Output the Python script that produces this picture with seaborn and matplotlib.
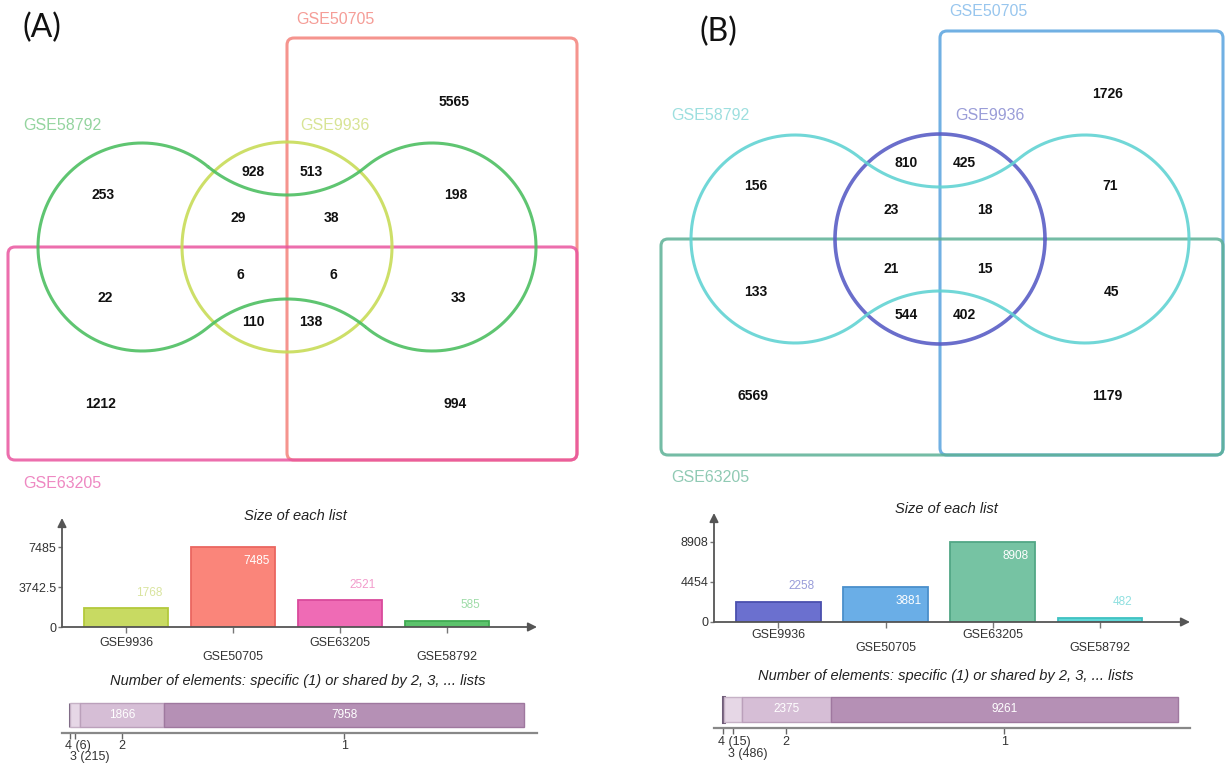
import numpy as np
import pandas as pd
import matplotlib
matplotlib.use("Agg")
import matplotlib.pyplot as plt
from matplotlib.patches import FancyBboxPatch
import seaborn as sns

# ---------------- data ----------------
list_names = ["GSE9936", "GSE50705", "GSE63205", "GSE58792"]

# panel A (up-regulated)
sizes_a = [1768, 7485, 2521, 585]
venn_regions = ["50705", "58792", "9936_58792_L", "9936_58792_50705", "58792_50705",
                "9936_58792_inner", "9936_58792_50705_inner", "9936_63205_58792",
                "all4", "58792_63205", "58792_50705_63205", "9936_63205",
                "9936_50705_63205", "63205", "50705_63205"]
venn_counts_a = [5565, 253, 928, 513, 198, 29, 38, 6, 6, 22, 33, 110, 138, 1212, 994]
shared_degree = [4, 3, 2, 1]
shared_counts_a = [6, 215, 1866, 7958]

# panel B (down-regulated)
sizes_b = [2258, 3881, 8908, 482]
venn_counts_b = [1726, 156, 810, 425, 71, 23, 18, 21, 15, 133, 45, 544, 402, 6569, 1179]
shared_counts_b = [15, 486, 2375, 9261]

# ---------------- style ----------------
sns.set_theme(style="white")
plt.rcParams["font.family"] = ["Liberation Sans", "DejaVu Sans"]

W, H = 1225, 764
fig = plt.figure(figsize=(W / 100, H / 100), dpi=100)
canvas = fig.add_axes([0, 0, 1, 1])
canvas.set_xlim(0, W)
canvas.set_ylim(H, 0)
canvas.axis("off")


def px_axes(x0, x1, ytop, ybot):
    ax = fig.add_axes([x0 / W, 1 - ybot / H, (x1 - x0) / W, (ybot - ytop) / H])
    ax.set_facecolor("none")
    return ax


def dumbbell(cx, cy, r, d, e, n=200):
    """Closed outline made of two side lobes joined by two tangent arcs."""
    r2 = (d ** 2 + e ** 2 - r ** 2) / (2 * r - 2 * e)
    k = e + r2
    pts = []
    # left lobe, from upper tangent round the left side to lower tangent
    t = np.linspace(np.arctan2(-k, d), np.arctan2(k, d) - 2 * np.pi, n)
    pts.append(np.c_[cx - d + r * np.cos(t), cy + r * np.sin(t)])
    # lower connecting arc (bulges upward)
    t = np.linspace(np.arctan2(-k, -d), np.arctan2(-k, d), n)
    pts.append(np.c_[cx + r2 * np.cos(t), cy + k + r2 * np.sin(t)])
    # right lobe
    t = np.linspace(np.arctan2(k, -d), np.arctan2(-k, -d), n)
    pts.append(np.c_[cx + d + r * np.cos(t), cy + r * np.sin(t)])
    # upper connecting arc (dips downward)
    t = np.linspace(np.arctan2(k, d), np.arctan2(k, -d), n)
    pts.append(np.c_[cx + r2 * np.cos(t), cy - k + r2 * np.sin(t)])
    p = np.vstack(pts)
    return np.vstack([p, p[:1]])


def venn_panel(cx, cy, rect_top, rect_right, rect_left, rect_bottom, cols, name_cols,
               name_pos, counts, count_pos, circle_lw):
    # GSE50705 rectangle (upper-right)
    canvas.add_patch(FancyBboxPatch((cx, rect_top), rect_right - cx, rect_bottom - rect_top,
                                    boxstyle="round,pad=0,rounding_size=7", fill=False,
                                    ec=cols["GSE50705"], lw=2.2, alpha=0.85, zorder=2))
    # GSE63205 rectangle (lower band)
    canvas.add_patch(FancyBboxPatch((rect_left, cy), rect_right - rect_left, rect_bottom - cy,
                                    boxstyle="round,pad=0,rounding_size=7", fill=False,
                                    ec=cols["GSE63205"], lw=2.2, alpha=0.85, zorder=3))
    # GSE9936 circle
    th = np.linspace(0, 2 * np.pi, 400)
    canvas.plot(cx + 105 * np.cos(th), cy + 105 * np.sin(th), color=cols["GSE9936"],
                lw=circle_lw, alpha=0.9, zorder=4)
    # GSE58792 dumbbell
    p = dumbbell(cx, cy, 104, 145, 52)
    canvas.plot(p[:, 0], p[:, 1], color=cols["GSE58792"], lw=2.2, alpha=0.9, zorder=5)
    for nm in list_names:
        canvas.text(*name_pos[nm], nm, color=name_cols[nm], fontsize=11.5,
                    ha="center", va="center", zorder=6)
    for c, pos in zip(counts, count_pos):
        canvas.text(pos[0], pos[1], str(c), fontsize=10, fontweight="bold",
                    color="#111111", ha="center", va="center", zorder=7)


def size_panel(x0, x1, ytop, ybot, sizes, faces, edges, lbl_cols, ytick_lbls,
               off_near, off_far, title_xy):
    ax = px_axes(x0, x1, ytop, ybot)
    df = pd.DataFrame({"list": list_names, "size": sizes})
    sns.barplot(data=df, x="list", y="size", hue="list", palette=dict(zip(list_names, faces)),
                width=0.79, saturation=1, legend=False, ax=ax)
    for patch, ec in zip(ax.patches, edges):
        patch.set_edgecolor(ec)
        patch.set_linewidth(1.3)
    top = max(sizes)
    ax.set_xlim(-0.6, 3.84)
    ax.set_ylim(0, top * 1.3625)
    for s in ax.spines.values():
        s.set_visible(False)
    ax.set_xlabel("")
    ax.set_ylabel("")
    ax.set_xticks(range(len(list_names)))
    ax.set_xticklabels([""] * len(list_names))
    ax.tick_params(axis="x", bottom=True, length=4, width=1, color="#777777", direction="out")
    ax.set_yticks([0, top / 2, top])
    ax.set_yticklabels(ytick_lbls)
    ax.tick_params(axis="y", left=True, length=3, width=1, color="#777777",
                   labelsize=9, labelcolor="#333333", pad=1)
    arrow = dict(arrowstyle="-|>", color="#555555", lw=1.3, mutation_scale=13,
                 shrinkA=0, shrinkB=0)
    ax.annotate("", xy=(0, 1), xytext=(0, 0), xycoords="axes fraction", arrowprops=arrow)
    ax.annotate("", xy=(1, 0), xytext=(0, 0), xycoords="axes fraction", arrowprops=arrow)
    for i, (nm, v) in enumerate(zip(list_names, sizes)):
        off = off_near if i % 2 == 0 else off_far
        ax.annotate(nm, xy=(i, 0), xytext=(0, -off), textcoords="offset points",
                    ha="center", va="center", fontsize=9, color="#333333")
        inside = v > 0.4 * top
        ax.annotate(str(v), xy=(i + 0.24, v), xytext=(-2, -10 if inside else 11),
                    textcoords="offset points", ha="center", va="center", fontsize=8.5,
                    color="white" if inside else lbl_cols[i])
    canvas.text(*title_xy, "Size of each list", fontsize=10.5, style="italic",
                ha="center", va="center", color="#222222")
    return ax


def shared_panel(ax_x0, ax_x1, bar_x0, bar_x1, ytop, yaxis, bar_top, bar_bot, counts,
                 row1, row2, title_xy):
    ax = px_axes(ax_x0, ax_x1, ytop, yaxis)
    total = sum(counts)
    scale = (bar_x1 - bar_x0) / total
    ax.set_xlim(-(bar_x0 - ax_x0) / scale, (ax_x1 - bar_x0) / scale)
    ax.set_ylim(0, 1)
    hpx = yaxis - ytop
    b0 = (yaxis - bar_bot) / hpx
    b1 = (yaxis - bar_top) / hpx
    lefts = np.concatenate([[0], np.cumsum(counts)[:-1]])
    faces = ["#8d7b95", "#e6d7e6", "#d6bed6", "#b590b5"]
    edges = ["#6f5c78", "#c6b2c6", "#bba0bb", "#9f789f"]
    widths = [2.2, 1.0, 1.0, 1.0]
    ax.barh([(b0 + b1) / 2] * len(counts), counts, left=lefts, height=b1 - b0,
            color=faces, edgecolor=edges, linewidth=widths)
    for s in ["top", "right", "left"]:
        ax.spines[s].set_visible(False)
    ax.spines["bottom"].set_color("#888888")
    ax.spines["bottom"].set_linewidth(1.6)
    centers = lefts + np.array(counts) / 2
    ax.set_xticks(centers)
    ax.set_xticklabels([""] * len(counts))
    ax.set_yticks([])
    ax.tick_params(axis="x", bottom=True, length=4, width=1, color="#666666", direction="out")
    for deg, c, xc in zip(shared_degree, counts, centers):
        if deg >= 3:
            off = row1 if deg == 4 else row2
            ax.annotate(f"{deg} ({c})", xy=(xc, 0), xytext=(-3.5, -off),
                        textcoords="offset points", ha="left", va="center",
                        fontsize=9, color="#333333")
        else:
            ax.annotate(str(deg), xy=(xc, 0), xytext=(0, -row1), textcoords="offset points",
                        ha="center", va="center", fontsize=9, color="#333333")
            ax.text(xc, (b0 + b1) / 2, str(c), ha="center", va="center",
                    fontsize=8.5, color="white")
    canvas.text(*title_xy, "Number of elements: specific (1) or shared by 2, 3, ... lists",
                fontsize=10.5, style="italic", ha="center", va="center", color="#222222")


# ---------------- panel A ----------------
cols_a = {"GSE50705": "#f4817a", "GSE63205": "#e9559f", "GSE9936": "#c8dc58",
          "GSE58792": "#4dbf62"}
names_a = {"GSE50705": "#f59d97", "GSE63205": "#ee88c2", "GSE9936": "#d8e495",
           "GSE58792": "#94d49f"}
name_pos_a = {"GSE50705": (335, 20), "GSE58792": (62, 126), "GSE9936": (335, 126),
              "GSE63205": (62, 483)}
count_pos_a = [(454, 102), (103, 195), (253, 172), (311, 172), (456, 195), (238, 218),
               (331, 218), (240, 275), (333, 275), (105, 298), (458, 298), (253, 322),
               (311, 322), (101, 404), (455, 404)]
venn_panel(287, 247, 38, 577, 8, 460, cols_a, names_a, name_pos_a, venn_counts_a,
           count_pos_a, 2.2)
canvas.text(42, 28, "(A)", fontsize=23, family=["Lato", "DejaVu Sans"], ha="center",
            va="center", color="#111111")

size_panel(62, 537, 518, 627, sizes_a,
           ["#c8da62", "#fa857a", "#ef6bb5", "#5cc36c"],
           ["#b3c93c", "#ea6660", "#d94a9c", "#40ab52"],
           ["#d9e49e", "#ffffff", "#f29bcb", "#9fdca8"],
           ["0", "3742.5", "7485"], 11.5, 21.5, (295, 516))
shared_panel(62, 537, 70, 524, 700, 733, 703, 727, shared_counts_a, 9.5, 17.5, (298, 681))

# ---------------- panel B ----------------
cols_b = {"GSE50705": "#58a3df", "GSE63205": "#5cb195", "GSE9936": "#5a5ec6",
          "GSE58792": "#62d3d3"}
names_b = {"GSE50705": "#98c6ee", "GSE63205": "#90cab4", "GSE9936": "#9a9dd8",
           "GSE58792": "#9ddfdf"}
name_pos_b = {"GSE50705": (988, 12), "GSE58792": (710, 116), "GSE9936": (990, 116),
              "GSE63205": (710, 477)}
count_pos_b = [(1108, 94), (756, 186), (906, 163), (964, 163), (1110, 186), (891, 210),
               (985, 210), (891, 269), (985, 269), (756, 292), (1111, 292), (906, 315),
               (964, 315), (753, 396), (1107, 396)]
venn_panel(940, 239, 31, 1223, 661, 455, cols_b, names_b, name_pos_b, venn_counts_b,
           count_pos_b, 2.6)
canvas.text(718, 32, "(B)", fontsize=23, family=["Lato", "DejaVu Sans"], ha="center",
            va="center", color="#111111")

size_panel(714, 1190, 513, 622, sizes_b,
           ["#6b70cf", "#6aaee7", "#76c3a3", "#5fd8d8"],
           ["#4a4fae", "#4a8fcb", "#52a786", "#3fc1c1"],
           ["#989cd9", "#ffffff", "#ffffff", "#8fe0e0"],
           ["0", "4454", "8908"], 9, 18.5, (946, 509))
shared_panel(714, 1190, 723, 1178, 694, 728, 697, 722, shared_counts_b, 10, 19, (946, 676))

fig.savefig("out.png", dpi=100)
